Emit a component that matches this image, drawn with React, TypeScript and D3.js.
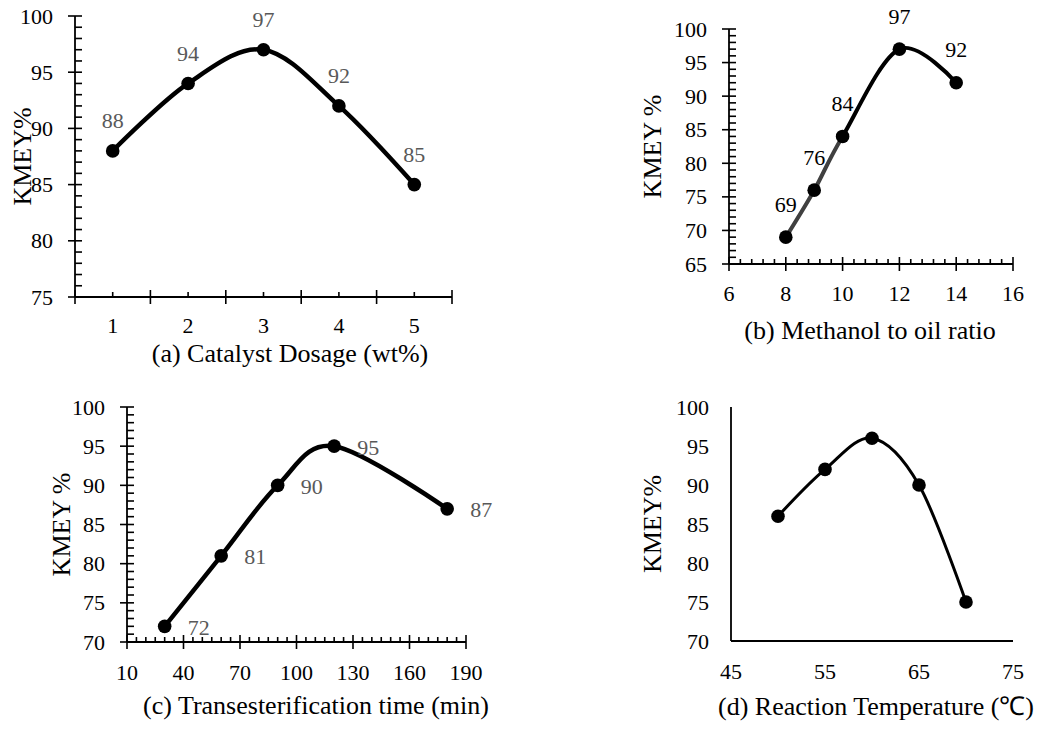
import React from 'react';
import * as d3 from 'd3';

// ---------- data ----------
const aCategories = [1, 2, 3, 4, 5];
const aValues = [88, 94, 97, 92, 85];
const aYTicks = [75, 80, 85, 90, 95, 100];

const bX = [8, 9, 10, 12, 14];
const bValues = [69, 76, 84, 97, 92];
const bXTicks = [6, 8, 10, 12, 14, 16];
const bYTicks = [65, 70, 75, 80, 85, 90, 95, 100];

const cX = [30, 60, 90, 120, 180];
const cValues = [72, 81, 90, 95, 87];
const cXTicks = [10, 40, 70, 100, 130, 160, 190];
const cYTicks = [70, 75, 80, 85, 90, 95, 100];

const dX = [50, 55, 60, 65, 70];
const dValues = [86, 92, 96, 90, 75];
const dXTicks = [45, 55, 65, 75];
const dYTicks = [70, 75, 80, 85, 90, 95, 100];

const titles = [
  '(a) Catalyst Dosage (wt%)',
  '(b) Methanol to oil ratio',
  '(c) Transesterification time (min)',
  '(d) Reaction Temperature (℃)',
];
const yTitles = ['KMEY%', 'KMEY %', 'KMEY %', 'KMEY%'];

const FONT = '"Times New Roman", "Liberation Serif", serif';

type Panel = {
  id: string;
  xs: number[];
  ys: number[];
  xDomain: [number, number];
  yDomain: [number, number];
  left: number;
  right: number;
  top: number;
  bottom: number;
  xLabelVals: number[];
  xMajor: number[];
  xMinor: number[];
  yMajor: number[];
  yMinor: number[];
  showTicks: boolean;
  xLabelY: number;
  title: string;
  titleX: number;
  titleY: number;
  yTitle: string;
  yTitleX: number;
  lineWidth: number;
  labelColor: string | null;
  labelDx: number;
  labelDy: number;
  labelAnchor: 'middle' | 'start';
  greyUntil?: number;
};

const minorRange = (lo: number, hi: number, step: number, majors: number[]) =>
  d3
    .range(lo, hi + step / 2, step)
    .map((v) => Math.round(v * 1000) / 1000)
    .filter((v) => !majors.some((m) => Math.abs(m - v) < 1e-6));

const panels: Panel[] = [
  {
    id: 'a',
    xs: aCategories,
    ys: aValues,
    xDomain: [0.5, 5.5],
    yDomain: [75, 100],
    left: 75,
    right: 452,
    top: 16,
    bottom: 297,
    xLabelVals: aCategories,
    xMajor: d3.range(0.5, 5.6, 1),
    xMinor: aCategories,
    yMajor: aYTicks,
    yMinor: minorRange(75, 100, 1, aYTicks),
    showTicks: true,
    xLabelY: 325,
    title: titles[0],
    titleX: 290,
    titleY: 353,
    yTitle: yTitles[0],
    yTitleX: 22,
    lineWidth: 4.5,
    labelColor: '#595959',
    labelDx: 0,
    labelDy: -30,
    labelAnchor: 'middle',
  },
  {
    id: 'b',
    xs: bX,
    ys: bValues,
    xDomain: [6, 16],
    yDomain: [65, 100],
    left: 729,
    right: 1013,
    top: 29,
    bottom: 264,
    xLabelVals: bXTicks,
    xMajor: bXTicks,
    xMinor: minorRange(6, 16, 0.4, bXTicks),
    yMajor: bYTicks,
    yMinor: minorRange(65, 100, 1, bYTicks),
    showTicks: true,
    xLabelY: 293,
    title: titles[1],
    titleX: 870,
    titleY: 330,
    yTitle: yTitles[1],
    yTitleX: 652,
    lineWidth: 4,
    labelColor: '#000000',
    labelDx: 0,
    labelDy: -33,
    labelAnchor: 'middle',
    greyUntil: 10,
  },
  {
    id: 'c',
    xs: cX,
    ys: cValues,
    xDomain: [10, 190],
    yDomain: [70, 100],
    left: 127,
    right: 466,
    top: 407,
    bottom: 642,
    xLabelVals: cXTicks,
    xMajor: cXTicks,
    xMinor: minorRange(10, 190, 5, cXTicks),
    yMajor: cYTicks,
    yMinor: minorRange(70, 100, 1, cYTicks),
    showTicks: true,
    xLabelY: 672,
    title: titles[2],
    titleX: 316,
    titleY: 705,
    yTitle: yTitles[2],
    yTitleX: 61,
    lineWidth: 4.5,
    labelColor: '#595959',
    labelDx: 23,
    labelDy: 1,
    labelAnchor: 'start',
  },
  {
    id: 'd',
    xs: dX,
    ys: dValues,
    xDomain: [45, 75],
    yDomain: [70, 100],
    left: 731,
    right: 1013,
    top: 407,
    bottom: 641,
    xLabelVals: dXTicks,
    xMajor: [],
    xMinor: [],
    yMajor: dYTicks,
    yMinor: [],
    showTicks: false,
    xLabelY: 671,
    title: titles[3],
    titleX: 876,
    titleY: 706,
    yTitle: yTitles[3],
    yTitleX: 652,
    lineWidth: 3,
    labelColor: null,
    labelDx: 0,
    labelDy: 0,
    labelAnchor: 'middle',
  },
];

function PanelView({ p }: { p: Panel }) {
  const x = d3.scaleLinear().domain(p.xDomain).range([p.left, p.right]);
  const y = d3.scaleLinear().domain(p.yDomain).range([p.bottom, p.top]);
  const pts: [number, number][] = p.xs.map((v, i) => [x(v), y(p.ys[i])]);
  const line = d3.line().curve(d3.curveCardinal.tension(0));
  const path = line(pts) || '';
  const axisW = 1.8;
  const clipX = p.greyUntil !== undefined ? x(p.greyUntil) : null;

  return (
    <g>
      {clipX !== null && (
        <defs>
          <clipPath id={`clipL-${p.id}`}>
            <rect x={0} y={0} width={clipX} height={731} />
          </clipPath>
          <clipPath id={`clipR-${p.id}`}>
            <rect x={clipX} y={0} width={1049 - clipX} height={731} />
          </clipPath>
        </defs>
      )}
      {/* axes */}
      <line x1={p.left} x2={p.left} y1={p.top} y2={p.bottom} stroke="#000" strokeWidth={axisW} />
      <line x1={p.left} x2={p.right} y1={p.bottom} y2={p.bottom} stroke="#000" strokeWidth={axisW} />
      {p.showTicks && (
        <g stroke="#000" strokeWidth={1.6}>
          {p.yMajor.map((v) => (
            <line key={`ym${v}`} x1={p.left - 7} x2={p.left + 7} y1={y(v)} y2={y(v)} />
          ))}
          {p.yMinor.map((v) => (
            <line key={`yn${v}`} x1={p.left} x2={p.left + 7} y1={y(v)} y2={y(v)} />
          ))}
          {p.xMajor.map((v) => (
            <line key={`xm${v}`} x1={x(v)} x2={x(v)} y1={p.bottom - 7} y2={p.bottom + 7} />
          ))}
          {p.xMinor.map((v) => (
            <line key={`xn${v}`} x1={x(v)} x2={x(v)} y1={p.bottom - 5} y2={p.bottom} />
          ))}
        </g>
      )}
      {/* tick labels */}
      <g fontFamily={FONT} fontSize={22} fill="#000">
        {p.yMajor.map((v) => (
          <text key={`yl${v}`} x={p.left - 22} y={y(v)} textAnchor="end" dominantBaseline="central">
            {v}
          </text>
        ))}
        {p.xLabelVals.map((v) => (
          <text key={`xl${v}`} x={x(v)} y={p.xLabelY} textAnchor="middle" dominantBaseline="central">
            {v}
          </text>
        ))}
      </g>
      {/* titles */}
      <text
        x={p.titleX}
        y={p.titleY}
        textAnchor="middle"
        dominantBaseline="central"
        fontFamily={FONT}
        fontSize={26}
        fill="#000"
      >
        {p.title}
      </text>
      <text
        transform={`translate(${p.yTitleX},${(p.top + p.bottom) / 2}) rotate(-90)`}
        textAnchor="middle"
        dominantBaseline="central"
        fontFamily={FONT}
        fontSize={26}
        fill="#000"
      >
        {p.yTitle}
      </text>
      {/* line */}
      {clipX !== null ? (
        <g fill="none" strokeLinecap="round" strokeLinejoin="round">
          <path d={path} stroke="#404040" strokeWidth={p.lineWidth} clipPath={`url(#clipL-${p.id})`} />
          <path d={path} stroke="#000" strokeWidth={p.lineWidth} clipPath={`url(#clipR-${p.id})`} />
        </g>
      ) : (
        <path d={path} fill="none" stroke="#000" strokeWidth={p.lineWidth} strokeLinecap="round" />
      )}
      {/* markers */}
      {pts.map(([px, py], i) => (
        <circle key={`m${i}`} cx={px} cy={py} r={6.8} fill="#000" />
      ))}
      {/* data labels */}
      {p.labelColor &&
        pts.map(([px, py], i) => (
          <text
            key={`dl${i}`}
            x={px + p.labelDx}
            y={py + p.labelDy}
            textAnchor={p.labelAnchor}
            dominantBaseline="central"
            fontFamily={FONT}
            fontSize={22}
            fill={p.labelColor as string}
          >
            {p.ys[i]}
          </text>
        ))}
    </g>
  );
}

export default function App() {
  return (
    <svg
      width={1049}
      height={731}
      style={{ position: 'absolute', left: 0, top: 0, background: '#fff' }}
    >
      <rect x={0} y={0} width={1049} height={731} fill="#fff" />
      {panels.map((p) => (
        <PanelView key={p.id} p={p} />
      ))}
    </svg>
  );
}
